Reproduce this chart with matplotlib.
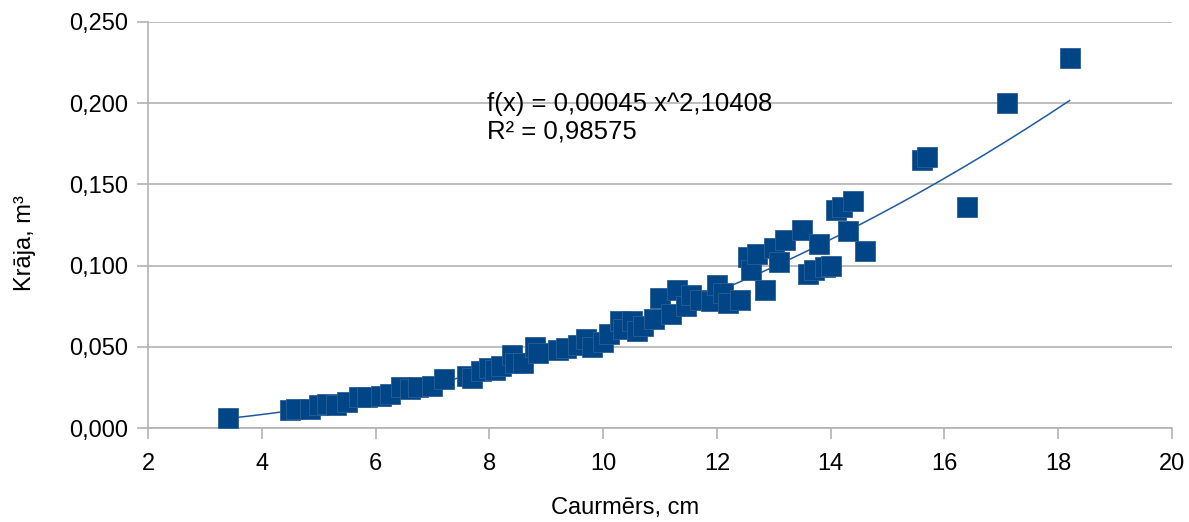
import numpy as np
import matplotlib.pyplot as plt

plt.rcParams['font.family'] = ['Liberation Sans', 'DejaVu Sans']

# caurmērs (cm) un krāja (m3)
diam = [3.4, 4.5, 4.6, 4.85, 5.0, 5.15, 5.3, 5.5, 5.7, 5.85,
        6.1, 6.25, 6.45, 6.6, 6.75, 7.0, 7.2, 7.6, 7.7, 7.85,
        8.0, 8.1, 8.2, 8.4, 8.45, 8.6, 8.8, 8.85, 9.2, 9.35,
        9.55, 9.7, 9.8, 10.0, 10.1, 10.3, 10.35, 10.5, 10.6, 10.7,
        10.9, 11.0, 11.2, 11.3, 11.45, 11.55, 11.7, 11.9, 12.0, 12.1,
        12.2, 12.4, 12.55, 12.6, 12.7, 12.85, 13.0, 13.1, 13.2, 13.5,
        13.6, 13.7, 13.8, 13.9, 14.0, 14.1, 14.2, 14.3, 14.4, 14.6,
        15.6, 15.7, 16.4, 17.1, 18.2]
vol = [0.006, 0.011, 0.012, 0.012, 0.014, 0.015, 0.014, 0.016, 0.019, 0.019,
       0.020, 0.021, 0.025, 0.024, 0.025, 0.026, 0.030, 0.032, 0.031, 0.035,
       0.037, 0.036, 0.038, 0.045, 0.040, 0.040, 0.050, 0.046, 0.048, 0.049,
       0.051, 0.055, 0.050, 0.053, 0.058, 0.066, 0.061, 0.066, 0.060, 0.063,
       0.067, 0.080, 0.070, 0.085, 0.075, 0.082, 0.079, 0.078, 0.088, 0.083,
       0.077, 0.079, 0.105, 0.097, 0.107, 0.085, 0.111, 0.102, 0.116, 0.122,
       0.095, 0.097, 0.113, 0.099, 0.100, 0.134, 0.136, 0.121, 0.140, 0.109,
       0.165, 0.167, 0.136, 0.200, 0.228]

# trenda līnija (pakāpes funkcija)
coef_a = 0.00045
coef_b = 2.10408
r2 = 0.98575

xticks = [2, 4, 6, 8, 10, 12, 14, 16, 18, 20]
yticks = [0.0, 0.05, 0.1, 0.15, 0.2, 0.25]
ytick_labels = ['0,000', '0,050', '0,100', '0,150', '0,200', '0,250']

fig = plt.figure(figsize=(11.89, 5.22), dpi=100)
ax = fig.add_axes([0.1245, 0.180, 0.8612, 0.778])

ax.plot(diam, vol, ls='none', marker='s', ms=14.5, color='#004586',
        mec='#2c5f95', mew=0.6, zorder=3)

xs = np.linspace(min(diam), max(diam), 200)
ax.plot(xs, coef_a * xs ** coef_b, color='#1f5b9c', lw=1.1, zorder=2)

ax.set_xlim(2, 20)
ax.set_ylim(0, 0.25)
ax.set_xticks(xticks)
ax.set_yticks(yticks)
ax.set_yticklabels(ytick_labels)
ax.yaxis.grid(True, color='#b3b3b3', lw=1.2)
ax.set_axisbelow(True)
for s in ['top', 'right']:
    ax.spines[s].set_visible(False)
for s in ['left', 'bottom']:
    ax.spines[s].set_color('#b3b3b3')
    ax.spines[s].set_linewidth(1.2)
ax.tick_params(axis='both', colors='#b3b3b3', width=1.2, length=8,
               labelsize=17, labelcolor='black')
ax.tick_params(axis='y', pad=6)
ax.tick_params(axis='x', pad=10)

ax.set_xlabel('Caurmērs, cm', fontsize=17, va='center')
ax.set_ylabel('Krāja, m³', fontsize=17, va='center')
ax.xaxis.set_label_coords(625 / 1189, 1 - 508 / 522, transform=fig.transFigure)
ax.yaxis.set_label_coords(25 / 1189, 1 - 243 / 522, transform=fig.transFigure)

eq = 'f(x) = ' + f'{coef_a:.5f}'.replace('.', ',') + ' x^' + f'{coef_b:.5f}'.replace('.', ',')
rt = 'R² = ' + f'{r2:.5f}'.replace('.', ',')
ax.text(7.96, 0.2069, eq + '\n' + rt, fontsize=18.5, va='top', ha='left',
        linespacing=1.2)

fig.savefig('out.png', dpi=100)
